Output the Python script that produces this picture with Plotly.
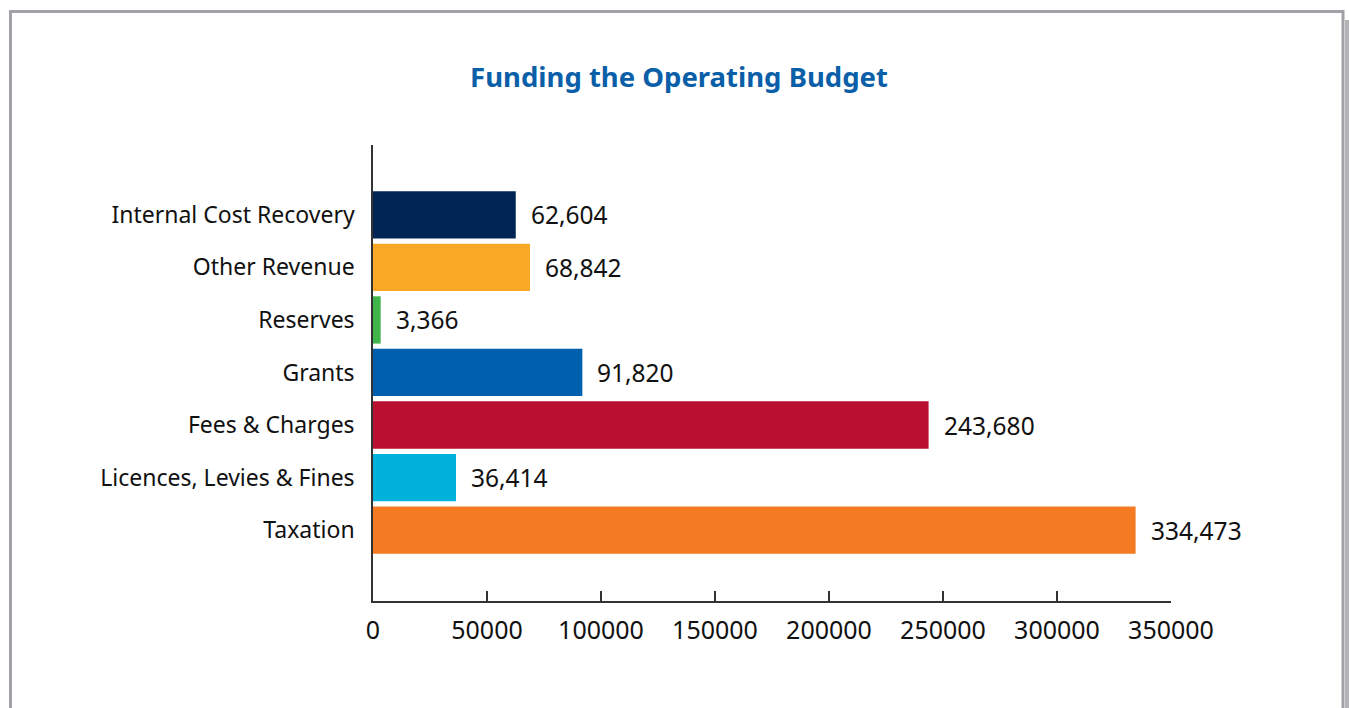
import plotly.graph_objects as go

# Funding sources, listed bottom-to-top as drawn on the category axis
categories = [
    "Taxation",
    "Licences, Levies & Fines",
    "Fees & Charges",
    "Grants",
    "Reserves",
    "Other Revenue",
    "Internal Cost Recovery",
]
values = [334473, 36414, 243680, 91820, 3366, 68842, 62604]
bar_colors = ["#f47b22", "#00b2dc", "#b90f30", "#0060ad", "#3fb54a", "#f9a825", "#002554"]
x_ticks = [0, 50000, 100000, 150000, 200000, 250000, 300000, 350000]

W, H = 1349, 708
ML, MR, MT, MB = 373, 178, 145, 107
PW, PH = W - ML - MR, H - MT - MB


def px_x(p):
    return (p - ML) / PW


def px_y(p):
    return 1 - (p - MT) / PH


fig = go.Figure()
fig.add_trace(go.Bar(
    y=categories,
    x=values,
    orientation="h",
    marker=dict(color=bar_colors, line=dict(width=0)),
    width=0.9,
    hoverinfo="x+y",
))

# value labels to the right of each bar
for cat, v in zip(categories, values):
    fig.add_annotation(
        x=v, y=cat, text=f"{v:,}", showarrow=False,
        xanchor="left", yanchor="middle", xshift=13,
        font=dict(family="Noto Sans", size=24.5, color="#111111"),
    )

# page frame with a soft drop shadow on the right
fig.add_shape(type="rect", xref="paper", yref="paper", layer="below",
              x0=px_x(1345), x1=px_x(1349), y0=px_y(720), y1=px_y(20),
              fillcolor="#b3b3b5", line=dict(width=0))
fig.add_shape(type="rect", xref="paper", yref="paper", layer="below",
              x0=px_x(10.5), x1=px_x(1343), y0=px_y(730), y1=px_y(11.5),
              fillcolor="rgba(0,0,0,0)", line=dict(color="#a2a2a6", width=3))

fig.update_layout(
    width=W, height=H,
    margin=dict(l=ML, r=MR, t=MT, b=MB),
    paper_bgcolor="white",
    plot_bgcolor="white",
    showlegend=False,
    title=dict(
        text="<b>Funding the Operating Budget</b>",
        x=679 / W, xanchor="center",
        y=1 - 77 / H, yanchor="middle",
        font=dict(family="Noto Sans", size=27.5, color="#0b5fa8"),
    ),
    font=dict(family="Noto Sans", color="#111111"),
)

fig.update_xaxes(
    range=[0, 350000],
    tickvals=x_ticks,
    ticktext=[str(t) for t in x_ticks],
    ticks="inside", ticklen=10, tickwidth=1.5, tickcolor="#333333",
    showline=True, linecolor="#333333", linewidth=1.5,
    showgrid=False, zeroline=False,
    ticklabelstandoff=6,
    tickfont=dict(family="Noto Sans", size=25, color="#111111"),
)
fig.update_yaxes(
    range=[-1.35, 7.33],
    showline=True, linecolor="#333333", linewidth=1.5,
    showgrid=False, zeroline=False, ticks="",
    ticklabelstandoff=12,
    tickfont=dict(family="Noto Sans", size=23, color="#111111"),
)

fig.write_html("out.html")
